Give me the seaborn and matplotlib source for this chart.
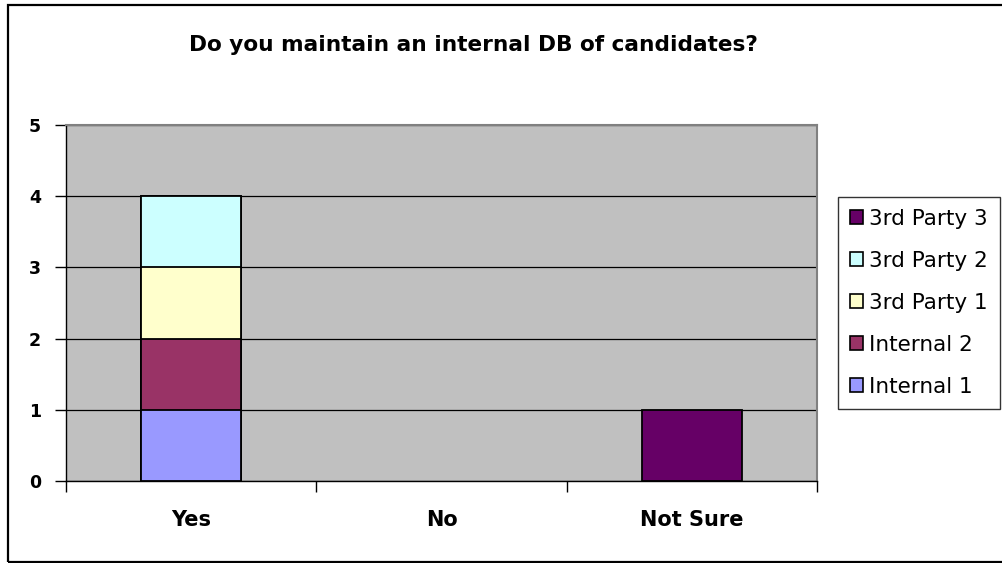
import matplotlib
matplotlib.use("Agg")
import numpy as np
import pandas as pd
import seaborn as sns
import matplotlib.pyplot as plt
from matplotlib.patches import Patch, Rectangle

# chart data
answers = ["Yes", "No", "Not Sure"]
series = ["Internal 1", "Internal 2", "3rd Party 1", "3rd Party 2", "3rd Party 3"]
internal_1 = [1, 0, 0]
internal_2 = [1, 0, 0]
third_party_1 = [1, 0, 0]
third_party_2 = [1, 0, 0]
third_party_3 = [0, 0, 1]
y_ticks = [0, 1, 2, 3, 4, 5]
title = "Do you maintain an internal DB of candidates?"

colors = ["#9999FF", "#993366", "#FFFFCC", "#CCFFFF", "#660066"]

sns.set_theme(style="white")
plt.rcParams['font.family'] = ['DejaVu Sans']
plt.rcParams['text.color'] = 'black'
plt.rcParams['xtick.color'] = 'black'
plt.rcParams['ytick.color'] = 'black'

fig = plt.figure(figsize=(10.02, 5.63), dpi=100)
ax = fig.add_axes([66/1002, 1-481/563, (817-66)/1002, (481-125)/563])
ax.set_facecolor("#C0C0C0")

# stacked bars: draw cumulative totals from the top series down
values = np.array([internal_1, internal_2, third_party_1, third_party_2, third_party_3])
cum = values.cumsum(axis=0)
for i in range(len(series)-1, -1, -1):
	df = pd.DataFrame({"answer": answers, "total": cum[i]})
	df = df[df["total"] > 0]
	if df.empty:
		continue
	sns.barplot(data=df, x="answer", y="total", order=answers, color=colors[i],
				saturation=1, width=0.4, edgecolor="black", linewidth=1.3, ax=ax, zorder=3)

ax.set_xlim(-0.5, 2.5)
ax.set_ylim(0, 5)
ax.set_yticks(y_ticks)
ax.set_yticklabels([str(t) for t in y_ticks], fontsize=12.5, fontweight="bold")
ax.yaxis.grid(True, color="black", linewidth=0.9)
ax.xaxis.grid(False)
ax.set_axisbelow(True)

# category labels centred, tick marks between categories
ax.set_xticks(range(len(answers)))
ax.set_xticklabels(answers, fontsize=15, fontweight="bold")
ax.set_xticks([-0.5, 0.5, 1.5, 2.5], minor=True)
ax.tick_params(axis="x", which="major", length=0, pad=21)
ax.tick_params(axis="x", which="minor", length=8, width=1, color="black", direction="out", bottom=True)
ax.tick_params(axis="y", length=8, width=1, color="black", direction="out", left=True, pad=10)
ax.set_xlabel("")
ax.set_ylabel("")

for side in ["left", "bottom"]:
	ax.spines[side].set_color("black")
	ax.spines[side].set_linewidth(1)
for side in ["top", "right"]:
	ax.spines[side].set_color("#808080")
	ax.spines[side].set_linewidth(1.5)

fig.text(473/1002, 1-45/563, title, ha="center", va="center", fontsize=15.6, fontweight="bold")

handles = [Patch(facecolor=colors[i], edgecolor="black", linewidth=1.2, label=series[i])
		   for i in range(len(series)-1, -1, -1)]
leg = fig.legend(handles=handles, loc="upper left", bbox_to_anchor=(838/1002, 1-197/563),
				 fontsize=15.5, frameon=True, fancybox=False, handlelength=0.6, handleheight=0.6,
				 handletextpad=0.3, labelspacing=1.02, borderpad=0.55, borderaxespad=0)
leg.get_frame().set_edgecolor("black")
leg.get_frame().set_linewidth(1)

# outer chart border
fig.patches.append(Rectangle((8/1002, 1-562/563), 1.0, (562-5)/563, transform=fig.transFigure,
							 fill=False, edgecolor="black", linewidth=1.6))

plt.savefig("out.png", dpi=100)
